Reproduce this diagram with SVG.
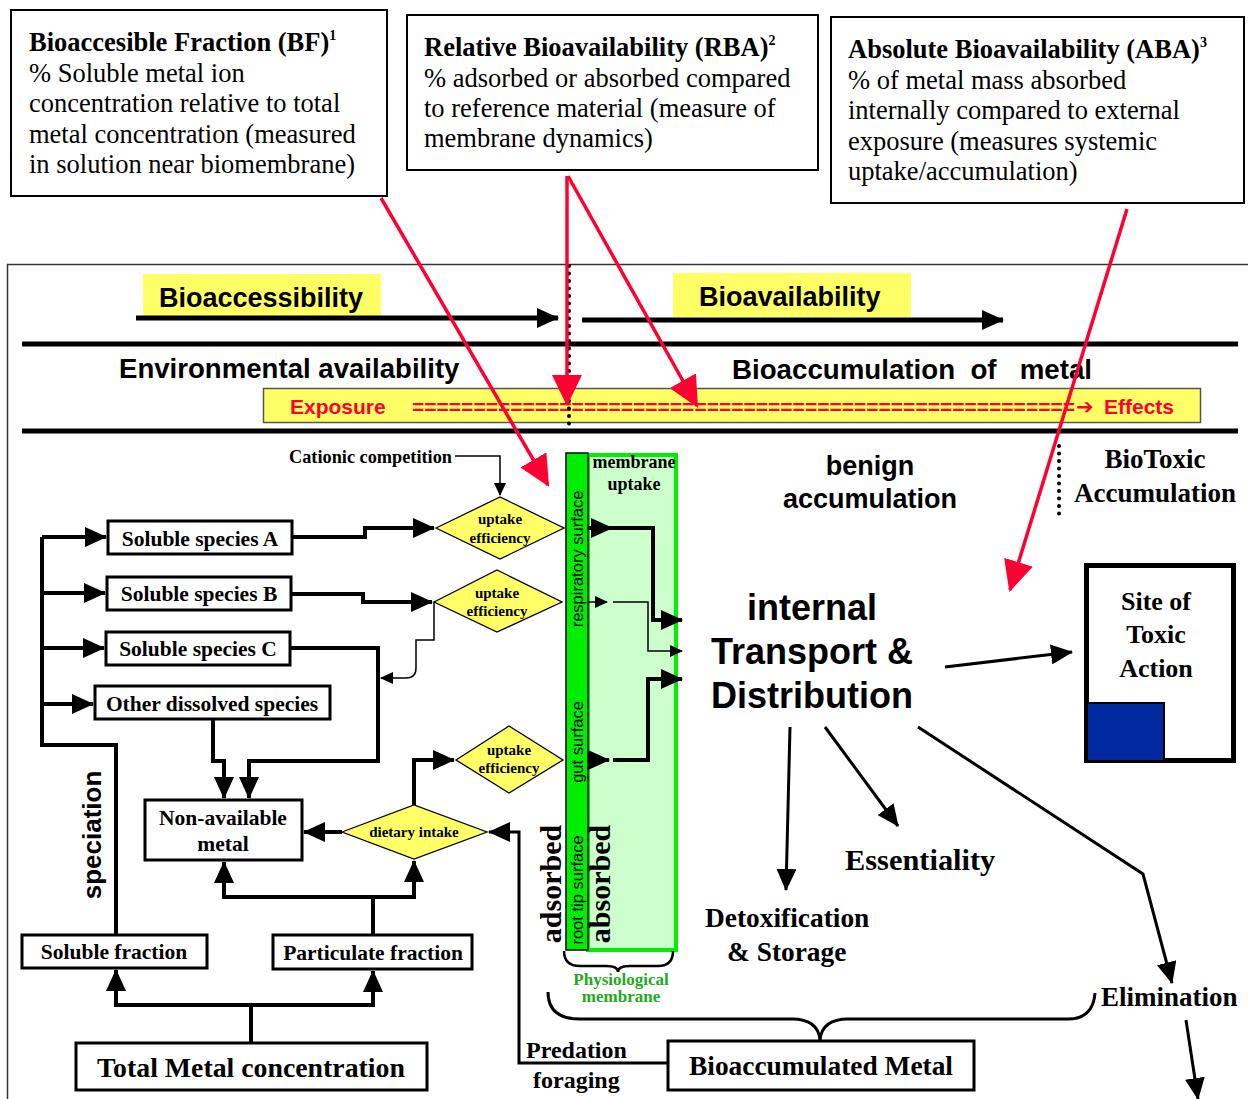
<svg xmlns="http://www.w3.org/2000/svg" width="1248" height="1099" viewBox="0 0 1248 1099">
<defs>
<style>
.tr{font-family:"Liberation Serif","Times New Roman",serif;}
.tb{font-family:"Liberation Serif","Times New Roman",serif;font-weight:bold;}
.sb{font-family:"Liberation Sans",Arial,sans-serif;font-weight:bold;}
.sr{font-family:"Liberation Sans",Arial,sans-serif;}
.box{fill:#fff;stroke:#000;stroke-width:2;}
.nb{fill:#fff;stroke:#000;stroke-width:3;}
.dia{fill:#FFFF66;stroke:#000;stroke-width:1.3;}
.thk{fill:none;stroke:#000;stroke-width:4;}
.med{fill:none;stroke:#000;stroke-width:3;}
.thn{fill:none;stroke:#000;stroke-width:1.5;}
.red{fill:none;stroke:#FF0033;stroke-width:3.5;}
.dot{fill:none;stroke:#000;stroke-width:4;stroke-linecap:round;stroke-dasharray:0 7.5;}
.ylw{fill:#FFFF66;}
</style>
<marker id="a" markerUnits="userSpaceOnUse" markerWidth="24" markerHeight="20" refX="21" refY="10" orient="auto"><path d="M0,0 L22,10 L0,20 z" fill="#000"/></marker>
<marker id="as" markerUnits="userSpaceOnUse" markerWidth="14" markerHeight="12" refX="12" refY="6" orient="auto"><path d="M0,0 L13,6 L0,12 z" fill="#000"/></marker>
<marker id="ar" markerUnits="userSpaceOnUse" markerWidth="32" markerHeight="30" refX="29" refY="15" orient="auto"><path d="M0,0 L31,15 L0,30 z" fill="#FF0033"/></marker>
</defs>
<rect width="1248" height="1099" fill="#fff"/>

<!-- definition boxes -->
<g id="bf">
<rect x="11" y="10" width="376" height="186" class="box"/>
<text x="29" y="51" class="tb" font-size="26.5">Bioaccesible Fraction (BF)<tspan font-size="14" dy="-11">1</tspan></text>
<text class="tr" font-size="26.5"><tspan x="29" y="82">% Soluble metal ion</tspan><tspan x="29" y="112">concentration relative to total</tspan><tspan x="29" y="143">metal concentration (measured</tspan><tspan x="29" y="173">in solution near biomembrane)</tspan></text>
</g>
<g id="rba">
<rect x="407" y="15" width="411" height="155" class="box"/>
<text x="424" y="56" class="tb" font-size="26.5">Relative Bioavailability (RBA)<tspan font-size="14" dy="-11">2</tspan></text>
<text class="tr" font-size="26.5"><tspan x="424" y="87">% adsorbed or absorbed compared</tspan><tspan x="424" y="117">to reference material (measure of</tspan><tspan x="424" y="147">membrane dynamics)</tspan></text>
</g>
<g id="aba">
<rect x="831" y="17" width="413" height="186" class="box"/>
<text x="848" y="58" class="tb" font-size="26.5">Absolute Bioavailability (ABA)<tspan font-size="14" dy="-11">3</tspan></text>
<text class="tr" font-size="26.5"><tspan x="848" y="89">% of metal mass absorbed</tspan><tspan x="848" y="119">internally compared to external</tspan><tspan x="848" y="150">exposure (measures systemic</tspan><tspan x="848" y="180">uptake/accumulation)</tspan></text>
</g>

<!-- frame -->
<path d="M7.5,1099 V264.5 H1248" fill="none" stroke="#333" stroke-width="1.5"/>

<!-- header bands -->
<g id="bioaccessibility">
<rect x="143" y="274" width="238" height="42" class="ylw"/>
<text x="159" y="307" class="sb" font-size="27">Bioaccessibility</text>
</g>
<g id="bioavailability">
<rect x="673" y="273" width="238" height="44" class="ylw"/>
<text x="699" y="306" class="sb" font-size="27">Bioavailability</text>
</g>
<line x1="22" y1="344" x2="1238" y2="344" stroke="#000" stroke-width="5"/>
<line x1="22" y1="431" x2="1238" y2="431" stroke="#000" stroke-width="5"/>
<text x="119" y="378" class="sb" font-size="27.6">Environmental availability</text>
<text x="732" y="379" class="sb" font-size="27.7" xml:space="preserve">Bioaccumulation  of   metal</text>
<g id="exposure">
<rect x="263.5" y="388.5" width="937" height="34" fill="#FFFF66" stroke="#555" stroke-width="1.5"/>
<text x="290" y="414" class="sb" font-size="21" fill="#FF0033">Exposure</text>
<text x="412" y="414" class="sb" font-size="21" fill="#FF0033" textLength="663" lengthAdjust="spacing">======================================================</text>
<text x="1076" y="414" font-family="DejaVu Sans,sans-serif" font-weight="bold" font-size="21" fill="#FF0033">➔</text>
<text x="1104" y="414" class="sb" font-size="21" fill="#FF0033">Effects</text>
</g>
<line x1="569" y1="266" x2="569" y2="438" class="dot"/>
<line x1="1059" y1="446" x2="1059" y2="520" class="dot"/>

<!-- left nodes -->
<g id="speciesA"><rect x="108" y="521" width="184" height="33" class="nb"/><text x="200" y="546" class="tb" font-size="21.5" text-anchor="middle">Soluble species A</text></g>
<g id="speciesB"><rect x="107" y="577" width="184" height="33" class="nb"/><text x="199" y="601" class="tb" font-size="21.5" text-anchor="middle">Soluble species B</text></g>
<g id="speciesC"><rect x="106" y="632" width="184" height="33" class="nb"/><text x="198" y="656" class="tb" font-size="21.5" text-anchor="middle">Soluble species C</text></g>
<g id="other"><rect x="95" y="686" width="235" height="33" class="nb"/><text x="212" y="711" class="tb" font-size="21.5" text-anchor="middle">Other dissolved species</text></g>
<g id="nonavail"><rect x="145" y="800" width="157" height="60" class="nb"/><text class="tb" font-size="21.5" text-anchor="middle"><tspan x="223" y="825">Non-available</tspan><tspan x="223" y="851">metal</tspan></text></g>
<g id="solfrac"><rect x="22" y="935" width="185" height="33" class="nb"/><text x="114" y="959" class="tb" font-size="21.5" text-anchor="middle">Soluble fraction</text></g>
<g id="partfrac"><rect x="273" y="935" width="199" height="34" class="nb"/><text x="373" y="960" class="tb" font-size="21.5" text-anchor="middle">Particulate fraction</text></g>
<g id="total"><rect x="76" y="1043" width="351" height="47" class="nb"/><text x="251" y="1077" class="tb" font-size="27.8" text-anchor="middle">Total Metal concentration</text></g>
<g id="bioacc"><rect x="668" y="1041" width="306" height="49" class="nb"/><text x="821" y="1075" class="tb" font-size="27.4" text-anchor="middle">Bioaccumulated Metal</text></g>

<g id="d1"><path d="M436,528 L500,497 L564,528 L500,559 Z" class="dia"/><text class="tb" font-size="15" text-anchor="middle"><tspan x="500" y="524">uptake</tspan><tspan x="500" y="543">efficiency</tspan></text></g>
<g id="d2"><path d="M434,602 L497,570 L562,602 L497,632 Z" class="dia"/><text class="tb" font-size="15" text-anchor="middle"><tspan x="497" y="598">uptake</tspan><tspan x="497" y="616">efficiency</tspan></text></g>
<g id="d3"><path d="M456,760 L509,726 L563,760 L509,793 Z" class="dia"/><text class="tb" font-size="15" text-anchor="middle"><tspan x="509" y="755">uptake</tspan><tspan x="509" y="773">efficiency</tspan></text></g>
<g id="dietary"><path d="M342,832 L414,805 L487,832 L414,859 Z" class="dia"/><text x="414" y="837" class="tb" font-size="15" text-anchor="middle">dietary intake</text></g>

<!-- right nodes -->
<g id="benign"><text class="sb" font-size="27" text-anchor="middle"><tspan x="870" y="475">benign</tspan><tspan x="870" y="508">accumulation</tspan></text></g>
<g id="biotoxic"><text class="tb" font-size="27" text-anchor="middle"><tspan x="1155" y="468">BioToxic</tspan><tspan x="1155" y="502">Accumulation</tspan></text></g>
<g id="internal"><text class="sb" font-size="36" text-anchor="middle"><tspan x="812" y="620">internal</tspan><tspan x="812" y="664">Transport &amp;</tspan><tspan x="812" y="708">Distribution</tspan></text></g>
<g id="site">
<rect x="1086.5" y="565.5" width="147" height="195" fill="#fff" stroke="#000" stroke-width="5"/>
<rect x="1087" y="703" width="77" height="58" fill="#0029A0" stroke="#000" stroke-width="2"/>
<text class="tb" font-size="26" text-anchor="middle"><tspan x="1156" y="610">Site of</tspan><tspan x="1156" y="643">Toxic</tspan><tspan x="1156" y="677">Action</tspan></text>
</g>
<g id="essentiality"><text x="845" y="870" class="tb" font-size="30.4">Essentiality</text></g>
<g id="detox"><text class="tb" font-size="27.4"><tspan x="705" y="927">Detoxification</tspan><tspan x="727" y="961">&amp; Storage</tspan></text></g>
<g id="elimination"><text x="1101" y="1006" class="tb" font-size="27">Elimination</text></g>
<g id="predation"><text class="tb" font-size="24"><tspan x="526" y="1058">Predation</tspan><tspan x="533" y="1088">foraging</tspan></text></g>
<g id="cationic"><text x="289" y="463" class="tb" font-size="18.3">Cationic competition</text></g>
<g id="speciation"><text transform="translate(101,835) rotate(-90)" class="sb" font-size="26" text-anchor="middle">speciation</text></g>

<!-- connectors -->
<g id="connectors">
<line x1="136" y1="318" x2="558" y2="318" stroke="#000" stroke-width="5" marker-end="url(#a)"/>
<line x1="582" y1="320" x2="1003" y2="320" stroke="#000" stroke-width="5" marker-end="url(#a)"/>

<path d="M116,935 V745 H42 V537" class="thk"/>
<path d="M42,537 H106" class="thk" marker-end="url(#a)"/>
<path d="M42,593 H105" class="thk" marker-end="url(#a)"/>
<path d="M42,648 H104" class="thk" marker-end="url(#a)"/>
<path d="M42,704 H93" class="thk" marker-end="url(#a)"/>

<path d="M292,537 H365 V528 H434" class="thk" marker-end="url(#a)"/>
<path d="M291,594 H363 V602 H432" class="thk" marker-end="url(#a)"/>
<path d="M290,648 H378 V761 H249 V798" class="thk" marker-end="url(#a)"/>
<path d="M213,719 V761 H224 V798" class="thk" marker-end="url(#a)"/>
<path d="M434,602 V640 H416 V668 Q416,678 406,678 H381" class="thn" marker-end="url(#as)"/>
<path d="M455,456 H500 V495" class="thn" marker-end="url(#as)"/>

<path d="M414,805 V760 H454" class="thk" marker-end="url(#a)"/>
<path d="M342,832 H304" class="thk" marker-end="url(#a)"/>
<path d="M668,1063 H519 V832 H489" class="med" marker-end="url(#a)"/>
<path d="M373,935 V897 H224 V862" class="thk" marker-end="url(#a)"/>
<path d="M373,897 H414 V861" class="thk" marker-end="url(#a)"/>
<path d="M251,1043 V1005 H116 V970" class="thk" marker-end="url(#a)"/>
<path d="M251,1005 H373 V971" class="thk" marker-end="url(#a)"/>

<path d="M945,667 L1072,652" class="med" marker-end="url(#a)"/>
<path d="M790,727 L786,890" class="med" marker-end="url(#a)"/>
<path d="M825,727 L898,826" class="med" marker-end="url(#a)"/>
<path d="M918,727 L1143,874 L1172,983" class="med" marker-end="url(#a)"/>
<path d="M1186,1020 L1198,1099" class="med" marker-end="url(#a)"/>

<path d="M548,992 Q548,1019 580,1019 L792,1019 Q818,1019 820,1040 Q822,1019 848,1019 L1068,1019 Q1093,1019 1095,993" fill="none" stroke="#000" stroke-width="3"/>
</g>

<!-- membrane -->
<g id="membrane">
<rect x="588" y="455" width="88" height="495" fill="#CCFFCC" stroke="#00EE00" stroke-width="4"/>
<rect x="566" y="453" width="22" height="497" fill="#00EE00" stroke="#000" stroke-width="1.5"/>
<text class="tb" font-size="18" text-anchor="middle"><tspan x="634" y="468">membrane</tspan><tspan x="634" y="490">uptake</tspan></text>
<text transform="translate(583,559) rotate(-90)" class="sr" font-size="16.5" text-anchor="middle">respiratory surface</text>
<text transform="translate(583,742) rotate(-90)" class="sr" font-size="16.5" text-anchor="middle">gut surface</text>
<text transform="translate(583,890) rotate(-90)" class="sr" font-size="16.5" text-anchor="middle">root tip surface</text>
<text transform="translate(561,884) rotate(-90)" class="tb" font-size="30" text-anchor="middle">adsorbed</text>
<text transform="translate(610,884) rotate(-90)" class="tb" font-size="30" text-anchor="middle">absorbed</text>
<path d="M564,951 Q564,966 580,966 L606,966 Q618,966 618,972 Q618,966 630,966 L658,966 Q673,966 673,951" fill="none" stroke="#000" stroke-width="2.5"/>
<text class="tb" font-size="17" fill="#22AA22" text-anchor="middle"><tspan x="621" y="985">Physiological</tspan><tspan x="621" y="1002">membrane</tspan></text>
</g>

<!-- membrane connectors -->
<g id="membrane-connectors">
<path d="M588,528 H612" class="thk" marker-end="url(#a)"/>
<path d="M606,528 H653 V620 H682" class="thk" marker-end="url(#a)"/>
<path d="M588,602 H607" class="thn" marker-end="url(#as)"/>
<path d="M613,602 H648 V651 H682" class="thn" marker-end="url(#as)"/>
<path d="M588,760 H609" class="thk" marker-end="url(#a)"/>
<path d="M613,760 H648 V679 H682" class="thk" marker-end="url(#a)"/>
</g>

<!-- red indicator arrows -->
<g id="red-arrows">
<line x1="381" y1="198" x2="548" y2="485" class="red" marker-end="url(#ar)"/>
<line x1="567" y1="176" x2="567" y2="404" class="red" marker-end="url(#ar)"/>
<line x1="568" y1="176" x2="697" y2="406" class="red" marker-end="url(#ar)"/>
<line x1="1127" y1="209" x2="1010" y2="590" class="red" marker-end="url(#ar)"/>
</g>
</svg>
